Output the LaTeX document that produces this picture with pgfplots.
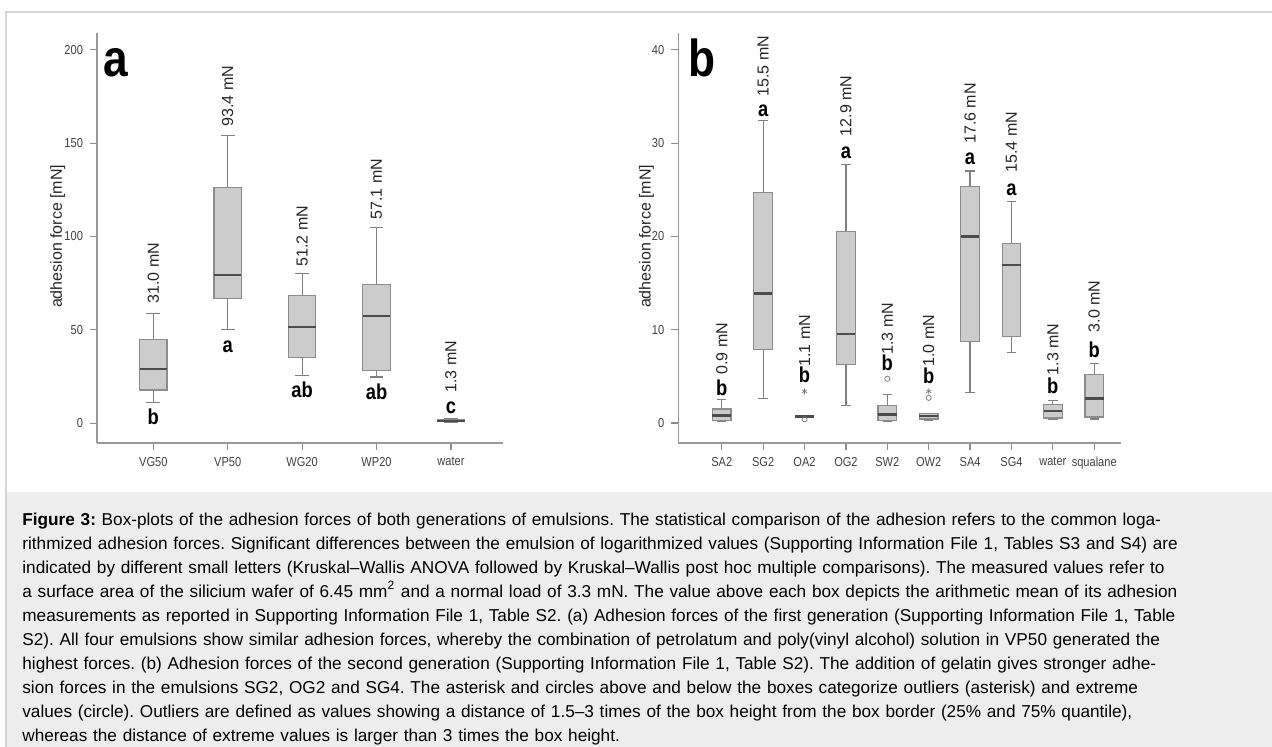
\documentclass[border=0pt]{standalone}
\usepackage{fontspec}
\setmainfont{Liberation Sans}
\newfontfamily\tickfont[FakeStretch=0.85]{Liberation Sans}
\newfontfamily\condfont[FakeStretch=0.85]{Liberation Sans}
\usepackage{pgfplots}
\pgfplotsset{compat=1.18}
\usepgfplotslibrary{statistics}

\newcommand{\bx}[7]{\addplot[boxplot prepared={draw position=#1, lower whisker=#2, lower quartile=#3, median=#4, upper quartile=#5, upper whisker=#6, box extend=#7, whisker extend=#7*0.5}] coordinates {};}
\newcommand{\mlab}[3]{\node[rotate=90, anchor=west, inner sep=0pt, font=\fontsize{8}{8}\selectfont, text=black!85] at (axis cs:#1,#2) {#3};}
\newcommand{\glab}[3]{\node[anchor=base, inner sep=0pt, font=\condfont\bfseries\fontsize{10.8}{10.8}\selectfont] at (axis cs:#1,#2) {#3};}

\pgfplotsset{
  boxplot/draw direction=y,
  boxplot/every box/.style={draw=black!45, fill=black!20, line width=0.6pt},
  boxplot/every whisker/.style={draw=black!50, line width=0.6pt},
  boxplot/every median/.style={draw=black!70, line width=1.2pt},
  spss/.style={
    scale only axis, clip=false,
    axis lines=left,
    axis line style={-, draw=black!40, line width=0.6pt},
    tick style={draw=black!45, line width=0.6pt},
    tick align=outside, major tick length=3.5pt,
    tick label style={font=\tickfont\fontsize{6.5}{6.5}\selectfont, text=black!75},
    /pgf/number format/assume math mode=true,
    every axis y label/.style={rotate=90, anchor=center, font=\fontsize{8}{8}\selectfont, text=black!85},
  }
}

\begin{document}
\frenchspacing
\begin{tikzpicture}
\path[use as bounding box] (0,0) rectangle (636pt,-373.5pt);
\fill[black!7] (3pt,-246pt) rectangle (636pt,-373.5pt);
\draw[black!17, line width=0.6pt] (3pt,-373.5pt) -- (3pt,-6pt) -- (636pt,-6pt);

% panel a
\begin{axis}[spss,
  at={(48.5pt,-221.5pt)}, anchor=south west,
  width=203pt, height=205pt,
  xmin=-0.757, xmax=4.70, ymin=-10.6, ymax=209,
  xtick={0,1,2,3,4}, xticklabels={VG50,VP50,WG20,WP20,water},
  ytick={0,50,100,150,200},
  ylabel={adhesion force [mN]},
  every axis y label/.append style={at={(axis description cs:-0.097,0.504)}},
]
\bx{0}{11.0}{17.8}{28.9}{45.0}{58.9}{0.37}
\bx{1}{50.0}{67.0}{79.4}{126.2}{153.9}{0.37}
\bx{2}{25.5}{35.0}{51.4}{68.2}{80.0}{0.37}
\bx{3}{24.8}{28.2}{57.5}{74.5}{105.0}{0.37}
\bx{4}{0.4}{0.8}{1.2}{1.8}{2.4}{0.37}
\mlab{0}{63.9}{31.0 mN}
\mlab{1}{158.7}{93.4 mN}
\mlab{2}{83.8}{51.2 mN}
\mlab{3}{108.9}{57.1 mN}
\mlab{4}{16.2}{1.3 mN}
\glab{0}{-0.9}{b}
\glab{1}{37.8}{a}
\glab{2}{13.9}{ab}
\glab{3}{12.9}{ab}
\glab{4}{5.4}{c}
\end{axis}
\node[anchor=base west, inner sep=0pt, font=\condfont\bfseries\fontsize{26}{26}\selectfont] at (51.5pt,-38.5pt) {a};

% panel b
\begin{axis}[spss,
  at={(339.15pt,-221.5pt)}, anchor=south west,
  width=221.2pt, height=205pt,
  xmin=-1.05, xmax=9.64, ymin=-2.14, ymax=41.8,
  xtick={0,...,9}, xticklabels={SA2,SG2,OA2,OG2,SW2,OW2,SA4,SG4,water,squalane},
  ytick={0,10,20,30,40},
  ylabel={adhesion force [mN]},
  every axis y label/.append style={at={(axis description cs:-0.072,0.504)}},
]
\bx{0}{0.2}{0.3}{0.8}{1.5}{2.5}{0.45}
\bx{1}{2.6}{7.85}{13.9}{24.7}{32.4}{0.45}
\bx{2}{0.62}{0.66}{0.7}{0.74}{0.78}{0.45}
\bx{3}{1.85}{6.3}{9.57}{20.5}{27.7}{0.45}
\bx{4}{0.2}{0.25}{0.9}{1.85}{3.1}{0.45}
\bx{5}{0.3}{0.43}{0.75}{1.0}{1.05}{0.45}
\bx{6}{3.3}{8.75}{20.0}{25.35}{27.0}{0.45}
\bx{7}{7.6}{9.3}{16.96}{19.25}{23.7}{0.45}
\bx{8}{0.35}{0.53}{1.3}{1.95}{2.4}{0.45}
\bx{9}{0.43}{0.64}{2.64}{5.2}{6.35}{0.45}
\addplot[only marks, mark=asterisk, mark size=1.5pt, black!55, line width=0.3pt] coordinates {(2,3.4) (5,3.4)};
\addplot[only marks, mark=o, mark size=1.3pt, black!55, line width=0.35pt] coordinates {(2,0.4) (4,4.75) (5,2.7)};
\mlab{0}{5.17}{0.9 mN}
\mlab{1}{34.95}{15.5 mN}
\mlab{2}{6.03}{1.1 mN}
\mlab{3}{30.7}{12.9 mN}
\mlab{4}{7.3}{1.3 mN}
\mlab{5}{6.03}{1.0 mN}
\mlab{6}{29.9}{17.6 mN}
\mlab{7}{26.8}{15.4 mN}
\mlab{8}{5.07}{1.3 mN}
\mlab{9}{9.7}{3.0 mN}
\glab{0}{2.9}{b}
\glab{1}{32.9}{a}
\glab{2}{4.35}{b}
\glab{3}{28.35}{a}
\glab{4}{5.64}{b}
\glab{5}{4.2}{b}
\glab{6}{27.7}{a}
\glab{7}{24.35}{a}
\glab{8}{3.14}{b}
\glab{9}{7.07}{b}
\end{axis}
\node[anchor=base west, inner sep=0pt, font=\condfont\bfseries\fontsize{26}{26}\selectfont] at (344pt,-38.5pt) {b};

% caption
\node[anchor=north west, inner sep=0pt, text width=628pt, align=left, font=\fontsize{8.6}{12}\selectfont] at (11pt,-256.3pt) {%
\textbf{Figure 3:} Box-plots of the adhesion forces of both generations of emulsions. The statistical comparison of the adhesion refers to the common loga-\\
rithmized adhesion forces. Significant differences between the emulsion of logarithmized values (Supporting Information File 1, Tables S3 and S4) are\\
indicated by different small letters (Kruskal–Wallis ANOVA followed by Kruskal–Wallis post hoc multiple comparisons). The measured values refer to\\
a surface area of the silicium wafer of 6.45 mm\textsuperscript{2} and a normal load of 3.3 mN. The value above each box depicts the arithmetic mean of its adhesion\\
measurements as reported in Supporting Information File 1, Table S2. (a) Adhesion forces of the first generation (Supporting Information File 1, Table\\
S2). All four emulsions show similar adhesion forces, whereby the combination of petrolatum and poly(vinyl alcohol) solution in VP50 generated the\\
highest forces. (b) Adhesion forces of the second generation (Supporting Information File 1, Table S2). The addition of gelatin gives stronger adhe-\\
sion forces in the emulsions SG2, OG2 and SG4. The asterisk and circles above and below the boxes categorize outliers (asterisk) and extreme\\
values (circle). Outliers are defined as values showing a distance of 1.5–3 times of the box height from the box border (25\% and 75\% quantile),\\
whereas the distance of extreme values is larger than 3 times the box height.};
\end{tikzpicture}
\end{document}
